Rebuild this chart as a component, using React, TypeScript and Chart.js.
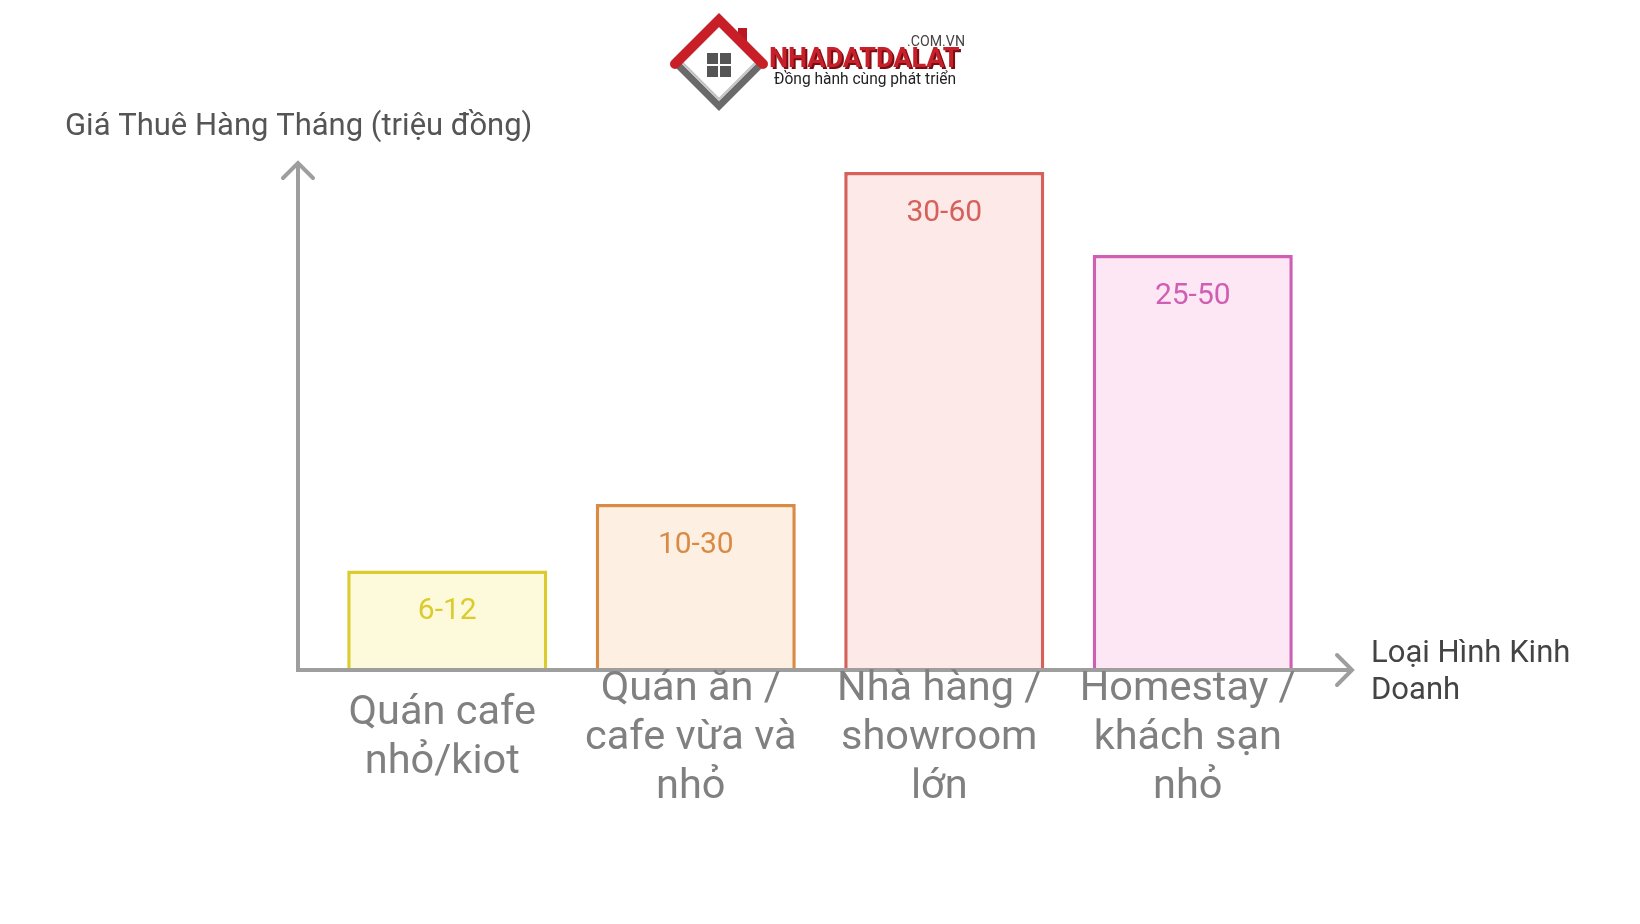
import React, { useEffect, useRef } from "react";
import { Chart, registerables } from "chart.js";

Chart.register(...registerables);

const categories: string[][] = [
  ["Quán cafe", "nhỏ/kiot"],
  ["Quán ăn /", "cafe vừa và", "nhỏ"],
  ["Nhà hàng /", "showroom", "lớn"],
  ["Homestay /", "khách sạn", "nhỏ"],
];
const barValues = [12, 20, 60, 50];
const rangeLabels = ["6-12", "10-30", "30-60", "25-50"];
const borderColors = ["#DCCB2E", "#D98B45", "#D6605A", "#CF5FB3"];
const fillColors = ["#FDFADB", "#FDF0E3", "#FDE9E8", "#FDE7F5"];
const yAxisTitle = "Giá Thuê Hàng Tháng (triệu đồng)";
const xAxisTitle = ["Loại Hình Kinh", "Doanh"];
const yMax = 60;

const FONT = "Roboto, 'Noto Sans', sans-serif";

function drawLogo(ctx: CanvasRenderingContext2D) {
  const cx = 719, cy = 63, r = 43;
  ctx.save();
  ctx.lineJoin = "miter";
  // lower gray frame
  ctx.strokeStyle = "#6a6a6a";
  ctx.lineWidth = 7;
  ctx.beginPath();
  ctx.moveTo(cx - r, cy);
  ctx.lineTo(cx, cy + r);
  ctx.lineTo(cx + r, cy);
  ctx.stroke();
  ctx.strokeStyle = "#c4c4c4";
  ctx.lineWidth = 2;
  ctx.beginPath();
  ctx.moveTo(cx - r + 7, cy);
  ctx.lineTo(cx, cy + r - 7);
  ctx.lineTo(cx + r - 7, cy);
  ctx.stroke();
  // chimney
  ctx.fillStyle = "#b81822";
  ctx.fillRect(cx + 19, cy - 35, 9, 14);
  // roof
  ctx.strokeStyle = "#c81e28";
  ctx.lineWidth = 10;
  ctx.beginPath();
  ctx.moveTo(cx - r - 1, cy + 1);
  ctx.lineTo(cx, cy - r);
  ctx.lineTo(cx + r + 1, cy + 1);
  ctx.stroke();
  // window
  ctx.fillStyle = "#555555";
  const w = 11, g = 2;
  ctx.fillRect(cx - w - g / 2, cy + 2 - w - g / 2, w, w);
  ctx.fillRect(cx + g / 2, cy + 2 - w - g / 2, w, w);
  ctx.fillRect(cx - w - g / 2, cy + 2 + g / 2, w, w);
  ctx.fillRect(cx + g / 2, cy + 2 + g / 2, w, w);
  // texts
  ctx.textBaseline = "middle";
  ctx.textAlign = "left";
  ctx.fillStyle = "#444444";
  ctx.font = `15px ${FONT}`;
  ctx.fillText(".COM.VN", 907, 42, 58);
  ctx.fillStyle = "#7a0c12";
  ctx.font = `bold 27px ${FONT}`;
  ctx.fillText("NHADATDALAT", 771, 62, 195);
  ctx.fillStyle = "#c8202a";
  ctx.fillText("NHADATDALAT", 769, 60, 195);
  ctx.fillStyle = "#222222";
  ctx.font = `16px ${FONT}`;
  ctx.fillText("Đồng hành cùng phát triển", 774, 80, 182);
  ctx.restore();
}

const overlayPlugin = {
  id: "overlay",
  afterDatasetsDraw(chart: any) {
    const ctx: CanvasRenderingContext2D = chart.ctx;
    const xScale = chart.scales.x;
    const yScale = chart.scales.y;
    const meta = chart.getDatasetMeta(0);
    ctx.save();

    // value labels inside bars
    ctx.textAlign = "center";
    ctx.textBaseline = "middle";
    ctx.font = `30px ${FONT}`;
    meta.data.forEach((bar: any, i: number) => {
      ctx.fillStyle = borderColors[i];
      ctx.fillText(rangeLabels[i], bar.x, bar.y + 41.5);
    });

    // axes
    const axisX = 298;
    const baseY = yScale.getPixelForValue(0);
    const yTop = 163;
    const xEnd = 1352;
    ctx.strokeStyle = "#9E9E9E";
    ctx.lineWidth = 4;
    ctx.lineCap = "butt";
    ctx.lineJoin = "miter";
    ctx.beginPath();
    ctx.moveTo(axisX, baseY);
    ctx.lineTo(axisX, yTop + 2);
    ctx.stroke();
    ctx.beginPath();
    ctx.moveTo(axisX - 2, baseY);
    ctx.lineTo(xEnd - 2, baseY);
    ctx.stroke();
    ctx.lineCap = "round";
    ctx.beginPath();
    ctx.moveTo(axisX - 15, yTop + 15);
    ctx.lineTo(axisX, yTop);
    ctx.lineTo(axisX + 15, yTop + 15);
    ctx.stroke();
    ctx.beginPath();
    ctx.moveTo(xEnd - 15, baseY - 15);
    ctx.lineTo(xEnd, baseY);
    ctx.lineTo(xEnd - 15, baseY + 15);
    ctx.stroke();

    // category labels
    ctx.fillStyle = "#808080";
    ctx.font = `41.5px ${FONT}`;
    ctx.textAlign = "center";
    const lineH = 49;
    const centerY = 738.5;
    categories.forEach((lines, i) => {
      const x = xScale.getPixelForValue(i) - 5;
      const start = centerY - ((lines.length - 1) * lineH) / 2;
      lines.forEach((t, j) => ctx.fillText(t, x, start + j * lineH));
    });

    // axis titles
    ctx.textAlign = "left";
    ctx.fillStyle = "#555555";
    ctx.font = `31px ${FONT}`;
    ctx.fillText(yAxisTitle, 65, 127);
    ctx.fillStyle = "#444444";
    xAxisTitle.forEach((t, j) => ctx.fillText(t, 1371, 654 + j * 37));

    drawLogo(ctx);
    ctx.restore();
  },
};

export default function App() {
  const ref = useRef<HTMLCanvasElement | null>(null);
  useEffect(() => {
    if (!ref.current) return;
    const chart = new Chart(ref.current, {
      type: "bar",
      data: {
        labels: categories.map((c) => c.join(" ")),
        datasets: [
          {
            data: barValues,
            backgroundColor: fillColors,
            borderColor: borderColors,
            borderWidth: 3.5,
            borderSkipped: "bottom",
            barPercentage: 0.805,
            categoryPercentage: 1,
          },
        ],
      },
      options: {
        animation: false,
        responsive: false,
        maintainAspectRatio: false,
        layout: { padding: { top: 172, bottom: 254, left: 323, right: 323 } },
        plugins: {
          legend: { display: false },
          title: { display: false },
          tooltip: { enabled: false },
        },
        scales: {
          x: { display: false },
          y: { display: false, min: 0, max: yMax },
        },
      },
      plugins: [overlayPlugin],
    });
    return () => chart.destroy();
  }, []);
  return (
    <div style={{ position: "fixed", left: 0, top: 0, width: 1640, height: 924, background: "#ffffff" }}>
      <canvas ref={ref} width={1640} height={924} style={{ width: 1640, height: 924, display: "block" }} />
    </div>
  );
}
